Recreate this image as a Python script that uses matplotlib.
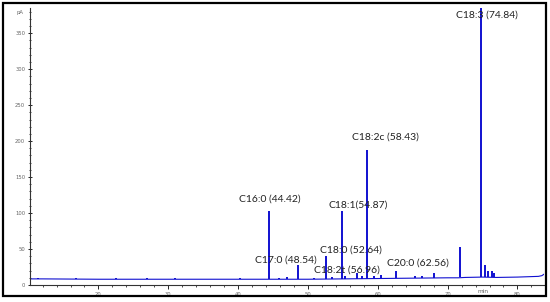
import matplotlib
matplotlib.use("Agg")
import matplotlib.pyplot as plt
from matplotlib.patches import Rectangle
from matplotlib.ticker import MultipleLocator

# baseline of the trace (min, pA)
base_t = [10.2, 12, 20, 30, 40, 44, 50, 55, 60, 65, 70, 71.5, 72.5, 75, 77, 80, 83, 83.5, 83.8]
base_v = [8.5, 8.5, 8, 8, 8, 8, 8, 8.5, 9, 9.5, 10, 10, 10.5, 11, 10.5, 11, 12, 13, 15]

# peaks (retention time, apex height)
peak_t = [11.4, 16.8, 22.5, 27.0, 31.0, 40.3, 44.42, 45.9, 47.0, 48.54, 50.9,
          52.64, 53.5, 54.87, 55.3, 56.96, 57.7, 58.43, 59.5, 60.5, 62.56,
          65.3, 66.4, 68.1, 71.8, 74.84, 75.3, 75.8, 76.3, 76.6]
peak_h = [10, 9.5, 9.5, 9.5, 9.5, 10, 103, 10, 11, 28, 10,
          41, 11, 103, 12, 16, 12, 188, 12, 14, 19,
          12, 12, 17, 53, 400, 28, 20, 19, 17]

# peak labels
lab_text = ["C16:0 (44.42)", "C17:0 (48.54)", "C18:0 (52.64)", "C18:1(54.87)",
            "C18:2t (56.96)", "C18:2c (58.43)", "C20:0 (62.56)", "C18:3 (74.84)"]
lab_t = [44.6, 46.8, 56.1, 57.2, 55.6, 61.1, 65.8, 75.6]
lab_v = [120, 35, 49, 111, 21, 206, 31, 375]

fig = plt.figure(figsize=(5.5, 3.02), dpi=100)
ax = fig.add_axes([30 / 550, 17 / 302, 514 / 550, 277 / 302])

blue = "#1010d0"
ax.plot(base_t, base_v, color=blue, lw=0.8)
base_at = [min(base_v[i] for i in range(len(base_t)) if base_t[i] >= t) for t in peak_t]
ax.vlines(peak_t, base_at, peak_h, color=blue, lw=1.4)

for s, x, y in zip(lab_text, lab_t, lab_v):
    ax.text(x, y, s, ha="center", va="center", fontsize=7.5, family="Lato", color="#222222")

ax.set_xlim(10.2, 83.8)
ax.set_ylim(0, 385)
ax.xaxis.set_major_locator(MultipleLocator(10))
ax.xaxis.set_minor_locator(MultipleLocator(2))
ax.yaxis.set_major_locator(MultipleLocator(50))
ax.yaxis.set_minor_locator(MultipleLocator(10))
ax.set_yticks(range(0, 351, 50))
ax.tick_params(which="major", length=3, width=0.6, labelsize=3.8, labelcolor="#666666", pad=2)
ax.tick_params(which="minor", length=1.5, width=0.5)
ax.tick_params(axis="y", which="both", direction="inout")
for s in ["top", "right"]:
    ax.spines[s].set_visible(False)
for s in ["left", "bottom"]:
    ax.spines[s].set_linewidth(0.8)
    ax.spines[s].set_color("#333333")

ax.text(-0.012, 0.985, "pA", transform=ax.transAxes, ha="right", va="center",
        fontsize=3.8, color="#666666")
ax.text(75, -6, "min", ha="center", va="top", fontsize=4.2, color="#666666")

fig.patches.append(Rectangle((3 / 550, 6 / 302), 543 / 550, 293 / 302, transform=fig.transFigure,
                             fill=False, edgecolor="black", lw=1.6))

fig.savefig("out.png", dpi=100)
